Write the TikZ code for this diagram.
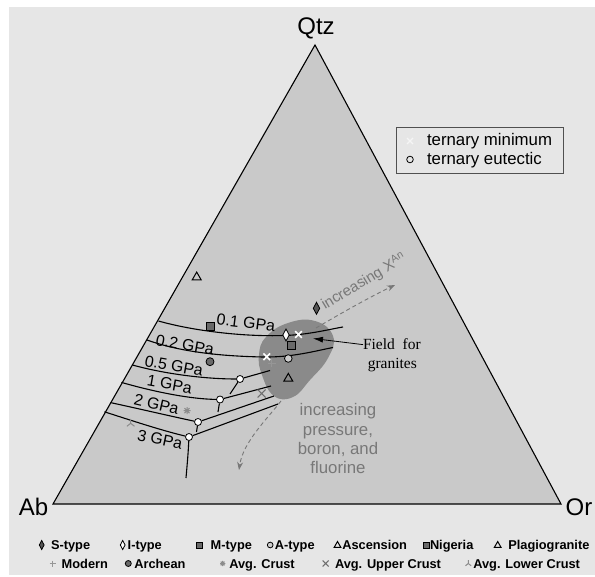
\documentclass[tikz,border=0pt]{standalone}
\usepackage{fontspec}
\setmainfont{Liberation Sans}
\newfontfamily\serifface{Liberation Serif}
\usetikzlibrary{arrows.meta}
\definecolor{bgc}{RGB}{230,230,230}
\definecolor{tric}{RGB}{201,201,201}
\definecolor{blobc}{RGB}{138,138,138}
\definecolor{txtgray}{RGB}{120,120,120}
\definecolor{mkdark}{RGB}{85,85,85}
\definecolor{mkmid}{RGB}{105,105,105}
\definecolor{boxc}{RGB}{80,80,80}
\definecolor{acirc}{RGB}{205,205,205}
\definecolor{plusc}{RGB}{150,150,150}
\definecolor{uxc}{RGB}{110,110,110}
\definecolor{astc}{RGB}{140,140,140}
\definecolor{lcc}{RGB}{140,140,140}
\definecolor{xlight}{RGB}{245,245,245}
\tikzset{
 mk/.style={line width=0.8pt},
 curve/.style={draw=black, line width=1.1pt},
 junc/.style={circle, draw=black, fill=white, inner sep=0pt, minimum size=7pt, line width=0.8pt},
 dasharr/.style={draw=txtgray, dash pattern=on 4pt off 3pt, line width=0.9pt, -{Stealth[length=8pt,width=6pt]}},
 txt/.style={inner sep=0pt, outer sep=0pt},
 axlbl/.style={txt, font=\fontsize{24}{28}\selectfont},
 gpa/.style={txt, font=\fontsize{16}{19}\selectfont},
 lbl/.style={txt, font=\fontsize{16.8}{20}\selectfont},
 gtxt/.style={txt, text=txtgray, font=\fontsize{16.8}{20}\selectfont},
 legtxt/.style={txt, anchor=base west, font=\bfseries\fontsize{12.8}{15}\selectfont},
 pics/sdia/.style={code={\draw[mk,fill=mkdark] (0,-6)--(3.2,0)--(0,6)--(-3.2,0)--cycle;}},
 pics/idia/.style={code={\draw[mk,fill=white] (0,-6)--(3.2,0)--(0,6)--(-3.2,0)--cycle;}},
 pics/msq/.style={code={\draw[mk,fill=mkmid] (-4,-4) rectangle (4,4);}},
 pics/mtri/.style={code={\draw[line width=1pt,line join=miter] (-4.5,3.2)--(4.5,3.2)--(0,-4.6)--cycle;}},
 pics/ocirc/.style={code={\draw[mk,fill=acirc] (0,0) circle (3.8pt);}},
 pics/ocircw/.style={code={\draw[mk] (0,0) circle (3.3pt);}},
 pics/dcirc/.style={code={\draw[mk,fill=mkmid] (0,0) circle (4pt);}},
 pics/xw/.style={code={\draw[white,line width=1.6pt] (-3.3,-3.3)--(3.3,3.3) (-3.3,3.3)--(3.3,-3.3);}},
 pics/xl/.style={code={\draw[xlight,line width=1.2pt] (-3,-3)--(3,3) (-3,3)--(3,-3);}},
 pics/plusm/.style={code={\draw[plusc,line width=1pt] (-4,0)--(4,0) (0,-4)--(0,4);}},
 pics/uxm/.style={code={\draw[uxc,line width=1pt] (-4,-4)--(4,4) (-4,4)--(4,-4);}},
 pics/astm/.style={code={\draw[astc,line width=1pt] (-3.5,0)--(3.5,0) (0,-3.5)--(0,3.5) (-2.5,-2.5)--(2.5,2.5) (-2.5,2.5)--(2.5,-2.5);}},
 pics/lcm/.style={code={\draw[lcc,line width=1pt] (0,0)--(0,-4.5) (0,0)--(-3.8,3) (0,0)--(3.8,3);}},
}
\begin{document}
\begin{tikzpicture}[x=1pt,y=-1pt]
\useasboundingbox (0,0) rectangle (595,577);
\fill[white] (0,0) rectangle (595,577);
\fill[bgc] (9,7) rectangle (595,575);

% triangle
\coordinate (Ab) at (53,504);
\coordinate (Qtz) at (315,45);
\coordinate (Or) at (561,504);
\draw[fill=tric, line width=1.1pt, line join=miter] (Ab) -- (Qtz) -- (Or) -- cycle;

% field for granites
\fill[blobc] plot[smooth cycle, tension=0.75] coordinates {(315,321) (333,336) (328,358) (310,380) (293,397) (274,396) (262,375) (259,355) (266,337) (288,323)};

% dashed arrows
\coordinate (xa0) at (316,328);
\coordinate (xa1) at (395,285);
\draw[dasharr] (xa0) .. controls (345,311) and (370,297) .. (xa1);
\coordinate (pa0) at (281,401);
\coordinate (pa1) at (239,470);
\draw[dasharr] (pa0) .. controls (268,418) and (243,442) .. (pa1);

% junction circles
\node[junc] (j05) at (240,379) {};
\node[junc] (j1) at (220,399.5) {};
\node[junc] (j2) at (198,422) {};
\node[junc] (j3) at (189,437) {};

% isobaric curves
\coordinate (c01a) at (158.5,321);
\coordinate (c01m) at (285,335.5);
\coordinate (c01b) at (343,327);
\draw[curve] (c01a) .. controls (190,330) and (240,337) .. (c01m) .. controls (310,334.5) and (328,329.5) .. (c01b);
\coordinate (c02a) at (147,340);
\coordinate (c02m) at (263,357);
\coordinate (c02b) at (333,347.5);
\draw[curve] (c02a) .. controls (178,351) and (215,356) .. (c02m) .. controls (292,357.5) and (315,351) .. (c02b);
\coordinate (c05a) at (132.4,365);
\draw[curve] (c05a) .. controls (165,374) and (205,379) .. (j05);
\coordinate (c1a) at (121.4,382.4);
\draw[curve] (c1a) .. controls (155,392) and (190,399) .. (j1);
\coordinate (c2a) at (110.5,402.6);
\draw[curve] (c2a) .. controls (140,409) and (170,416) .. (j2);
\coordinate (c3a) at (104.4,411.8);
\draw[curve] (c3a) .. controls (130,420) and (160,430) .. (j3);

% branches
\coordinate (b05) at (270,370.5);
\coordinate (b1) at (271,386);
\coordinate (b2) at (274,396);
\coordinate (b3) at (278,404);
\draw[curve] (j05) -- (b05);
\draw[curve] (j1) -- (b1);
\draw[curve] (j2) -- (b2);
\draw[curve] (j3) -- (b3);
\coordinate (t05) at (230,394);
\coordinate (t1) at (218,412);
\coordinate (t2) at (196.5,432);
\coordinate (t3) at (186,478);
\draw[curve] (j05) -- (t05);
\draw[curve] (j1) -- (t1);
\draw[curve] (j2) -- (t2);
\draw[curve] (j3) .. controls (188,455) .. (t3);

% data markers
\pic at (196.7,276.7) {mtri};
\pic at (316.5,308.3) {sdia};
\pic at (286,335) {idia};
\pic at (298.5,334.5) {xw};
\pic at (266.7,356.7) {xw};
\pic at (210,326) {msq};
\pic at (291.5,345) {msq};
\pic at (210,361.7) {dcirc};
\pic at (288.3,358.5) {ocirc};
\pic at (271.7,363.5) {plusm};
\pic at (288.3,378) {mtri};
\pic at (261.7,393.5) {uxm};
\pic at (187,410.7) {astm};
\pic at (130.7,423.3) {lcm};

% labels
\node[axlbl, anchor=base] (lq) at (316,35) {Qtz};
\node[axlbl, anchor=base] (lab) at (33.5,515) {Ab};
\node[axlbl, anchor=base] (lor) at (579,515.5) {Or};

\node[gpa, rotate=-7] (g01) at (246,322.5) {0.1 GPa};
\node[gpa, rotate=-10] (g02) at (185,345) {0.2 GPa};
\node[gpa, rotate=-10] (g05) at (174,366) {0.5 GPa};
\node[gpa, rotate=-10] (g1) at (169.6,384.2) {1 GPa};
\node[gpa, rotate=-13] (g2) at (156.5,404) {2 GPa};
\node[gpa, rotate=-12] (g3) at (160,439.5) {3 GPa};

\node[gtxt, font=\fontsize{15}{18}\selectfont, rotate=31, anchor=base west] (incx) at (325,310) {increasing X\textsuperscript{An}};
\node[gtxt, anchor=base] (p1) at (338,416) {increasing};
\node[gtxt, anchor=base] (p2) at (338,435.3) {pressure,};
\node[gtxt, anchor=base] (p3) at (338,454.6) {boron, and};
\node[gtxt, anchor=base] (p4) at (338,474) {fluorine};

\node[txt, font=\serifface\fontsize{15.5}{18}\selectfont, anchor=base west] (fld1) at (363,350) {Field\ \ for};
\node[txt, font=\serifface\fontsize{15.5}{18}\selectfont, anchor=base] (fld2) at (392.3,369) {granites};
\coordinate (fldtip) at (313,338.5);
\draw[line width=0.8pt, -{Latex[length=10pt,width=6pt]}] (fld1.west) -- (fldtip);

% legend box
\node[draw=boxc, line width=1.1pt, minimum width=167.6pt, minimum height=46pt, anchor=north west, inner sep=0pt] (lgbox) at (395.7,127.3) {};
\pic at (410,141) {xl};
\pic at (410,159.5) {ocircw};
\node[lbl, anchor=base west] (lt1) at (427,146) {ternary minimum};
\node[lbl, anchor=base west] (lt2) at (427,165) {ternary eutectic};

% bottom legend
\pic[scale=0.75] at (41.7,545) {sdia};
\node[legtxt] (l1) at (51,549.5) {S-type};
\pic[scale=0.75] at (122.7,545) {idia};
\node[legtxt] (l2) at (127.7,549.5) {I-type};
\pic[scale=0.75] at (199.3,545) {msq};
\node[legtxt] (l3) at (210.7,549.5) {M-type};
\pic[scale=0.75] at (270.2,545) {ocirc};
\node[legtxt] (l4) at (274.8,549.5) {A-type};
\pic[scale=0.75] at (337.5,545) {mtri};
\node[legtxt] (l5) at (342.3,549.5) {Ascension};
\pic[scale=0.75] at (426,545) {msq};
\node[legtxt] (l6) at (430,549.5) {Nigeria};
\pic[scale=0.75] at (497.7,545) {mtri};
\node[legtxt] (l7) at (508.3,549.5) {Plagiogranite};
\pic[scale=0.75] at (52.7,563.5) {plusm};
\node[legtxt] (l8) at (61.7,568) {Modern};
\pic[scale=0.75] at (128.3,563.5) {dcirc};
\node[legtxt] (l9) at (134.3,568) {Archean};
\pic[scale=0.75] at (222.7,563.5) {astm};
\node[legtxt] (l10) at (229.3,568) {Avg. Crust};
\pic[scale=0.75] at (325.7,563.5) {uxm};
\node[legtxt] (l11) at (335,568) {Avg. Upper Crust};
\pic[scale=0.75] at (468.3,563.5) {lcm};
\node[legtxt] (l12) at (473.3,568) {Avg. Lower Crust};
\end{tikzpicture}
\end{document}
